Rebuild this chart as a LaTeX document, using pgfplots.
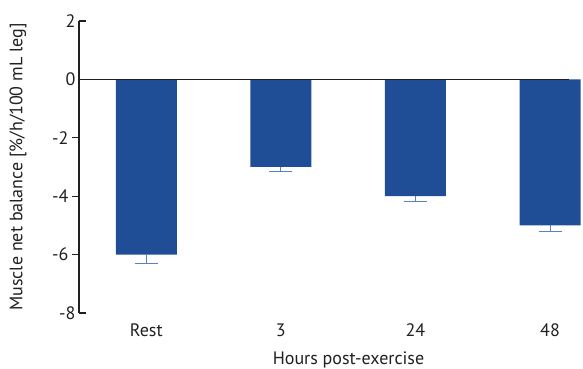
\documentclass[border=0pt]{standalone}
\usepackage{pgfplots}
\pgfplotsset{compat=1.18}
\usepackage{fontspec}
\setmainfont{PT Sans}
\definecolor{barblue}{HTML}{1F4E96}
\definecolor{errblue}{HTML}{5B80C2}
\definecolor{ink}{HTML}{231F20}

\begin{document}
\begin{tikzpicture}[x=1pt,y=1pt]
\path[use as bounding box] (-79,-56) rectangle (504,313);
\begin{axis}[
  at={(0,0)}, anchor=south west,
  scale only axis, width=504pt, height=292pt,
  xmin=-0.5, xmax=3.245, ymin=-8, ymax=2,
  clip=false,
  axis x line*=bottom, axis y line*=left,
  x axis line style={draw=none},
  y axis line style={ink, line width=1.2pt},
  xtick={0,1,2,3}, xticklabels={Rest,3,24,48},
  x tick style={draw=none}, xtick align=inside,
  ytick={-6,-4,-2},
  extra y ticks={-8,0,2},
  extra y tick style={ytick align=inside},
  ytick align=outside,
  major tick length=7pt,
  y tick style={ink, line width=1.2pt},
  /pgf/number format/assume math mode=true,
  tick label style={font=\fontsize{18}{20}\selectfont, text=ink},
  xticklabel style={anchor=base, yshift=-23.7pt},
  ylabel={Muscle net balance [\%/h/100 mL leg]},
  xlabel={Hours post-exercise},
  every axis y label/.style={at={(axis description cs:-0.121,0.5)}, rotate=90, anchor=center,
    font=\fontsize{18}{20}\selectfont, text=ink},
  every axis x label/.style={at={(axis description cs:0.5347,0)}, anchor=base, yshift=-51pt,
    font=\fontsize{18}{20}\selectfont, text=ink},
]
% mean net balance per time point, SE drawn downward
\addplot[ybar, bar width=0.453, fill=barblue, draw=none,
  error bars/.cd, y dir=minus, y explicit,
  error bar style={errblue, line width=1pt},
  error mark options={rotate=90, errblue, line width=1pt, mark size=11.5pt}]
  coordinates {
    (0,-6) -= (0,0.3)
    (1,-3) -= (0,0.15)
    (2,-4) -= (0,0.18)
    (3,-5) -= (0,0.22)
  };
% zero reference line
\draw[ink, line width=1.4pt] (axis cs:-0.5,0) -- (axis cs:3.14,0);
\end{axis}
\end{tikzpicture}
\end{document}
